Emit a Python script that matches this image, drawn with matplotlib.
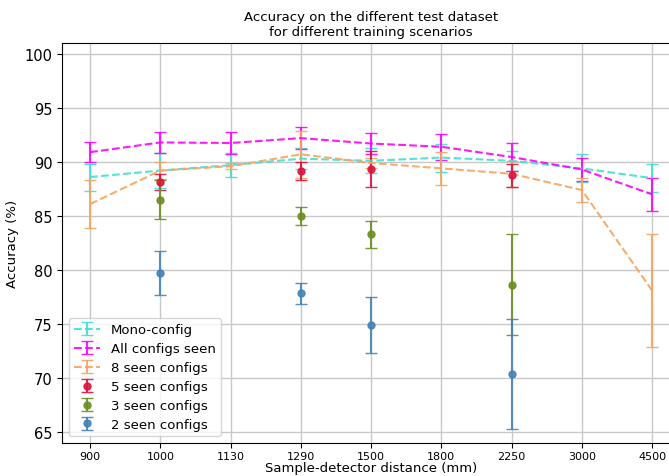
import matplotlib
matplotlib.use("Agg")
import matplotlib.pyplot as plt
import numpy as np

# sample-detector distances (categorical axis)
distances = ["900", "1000", "1130", "1290", "1500", "1800", "2250", "3000", "4500"]

mono_mean = [88.6, 89.2, 89.7, 90.3, 90.1, 90.4, 90.1, 89.4, 88.5]
mono_err = [1.25, 1.6, 1.1, 1.0, 1.15, 1.3, 0.9, 1.3, 1.3]

all_mean = [90.9, 91.8, 91.75, 92.2, 91.7, 91.4, 90.45, 89.3, 87.0]
all_err = [0.95, 0.95, 1.0, 1.0, 1.0, 1.2, 1.3, 1.05, 1.5]

eight_mean = [86.1, 89.2, 89.6, 90.7, 89.9, 89.4, 88.9, 87.4, 78.1]
eight_err = [2.25, 0.8, 0.3, 2.2, 0.5, 1.55, 1.2, 1.15, 5.2]

five_x = ["1000", "1290", "1500", "2250"]
five_mean = [88.15, 89.15, 89.35, 88.75]
five_err = [0.75, 0.8, 1.7, 1.1]

three_x = ["1000", "1290", "1500", "2250"]
three_mean = [86.5, 85.0, 83.3, 78.65]
three_err = [1.8, 0.85, 1.27, 4.7]

two_x = ["1000", "1290", "1500", "2250"]
two_mean = [79.7, 77.85, 74.95, 70.35]
two_err = [2.05, 0.97, 2.6, 5.1]

pos = {d: i for i, d in enumerate(distances)}
x_all = np.arange(len(distances))

fig = plt.figure(figsize=(6.69, 4.77), dpi=100)
ax = fig.add_axes([0.0927, 0.0692, 0.924, 0.8386])

ax.errorbar(x_all, mono_mean, yerr=mono_err, color="#40E0D0", ls="--", capsize=4,
            label="Mono-config", alpha=0.9)
ax.errorbar(x_all, all_mean, yerr=all_err, color="magenta", ls="--", capsize=4,
            label="All configs seen", alpha=0.9)
ax.errorbar(x_all, eight_mean, yerr=eight_err, color="sandybrown", ls="--", capsize=4,
            label="8 seen configs", alpha=0.9)
ax.errorbar([pos[d] for d in five_x], five_mean, yerr=five_err, color="crimson", fmt="o",
            ms=5, capsize=4, label="5 seen configs", alpha=0.9)
ax.errorbar([pos[d] for d in three_x], three_mean, yerr=three_err, color="olivedrab", fmt="o",
            ms=5, capsize=4, label="3 seen configs", alpha=0.9)
ax.errorbar([pos[d] for d in two_x], two_mean, yerr=two_err, color="steelblue", fmt="o",
            ms=5, capsize=4, label="2 seen configs", alpha=0.9)

ax.set_xticks(x_all)
ax.set_xticklabels(distances)
ax.set_xlim(-0.4, 8.4)
ax.set_ylim(64, 101)
ax.set_yticks([65, 70, 75, 80, 85, 90, 95, 100])
ax.tick_params(axis="y", labelsize=10.5)
ax.tick_params(axis="x", labelsize=8, pad=2)
ax.grid(True, color="#c8c8c8", lw=1)
ax.set_axisbelow(True)

ax.set_xlabel("Sample-detector distance (mm)", fontsize=9.5, labelpad=0)
ax.set_ylabel("Accuracy (%)", fontsize=9.5)
ax.set_title("Accuracy on the different test dataset\nfor different training scenarios", fontsize=9.5)
ax.legend(loc="lower left", fontsize=9.5, labelspacing=0.45)

fig.savefig("out.png", dpi=100)
